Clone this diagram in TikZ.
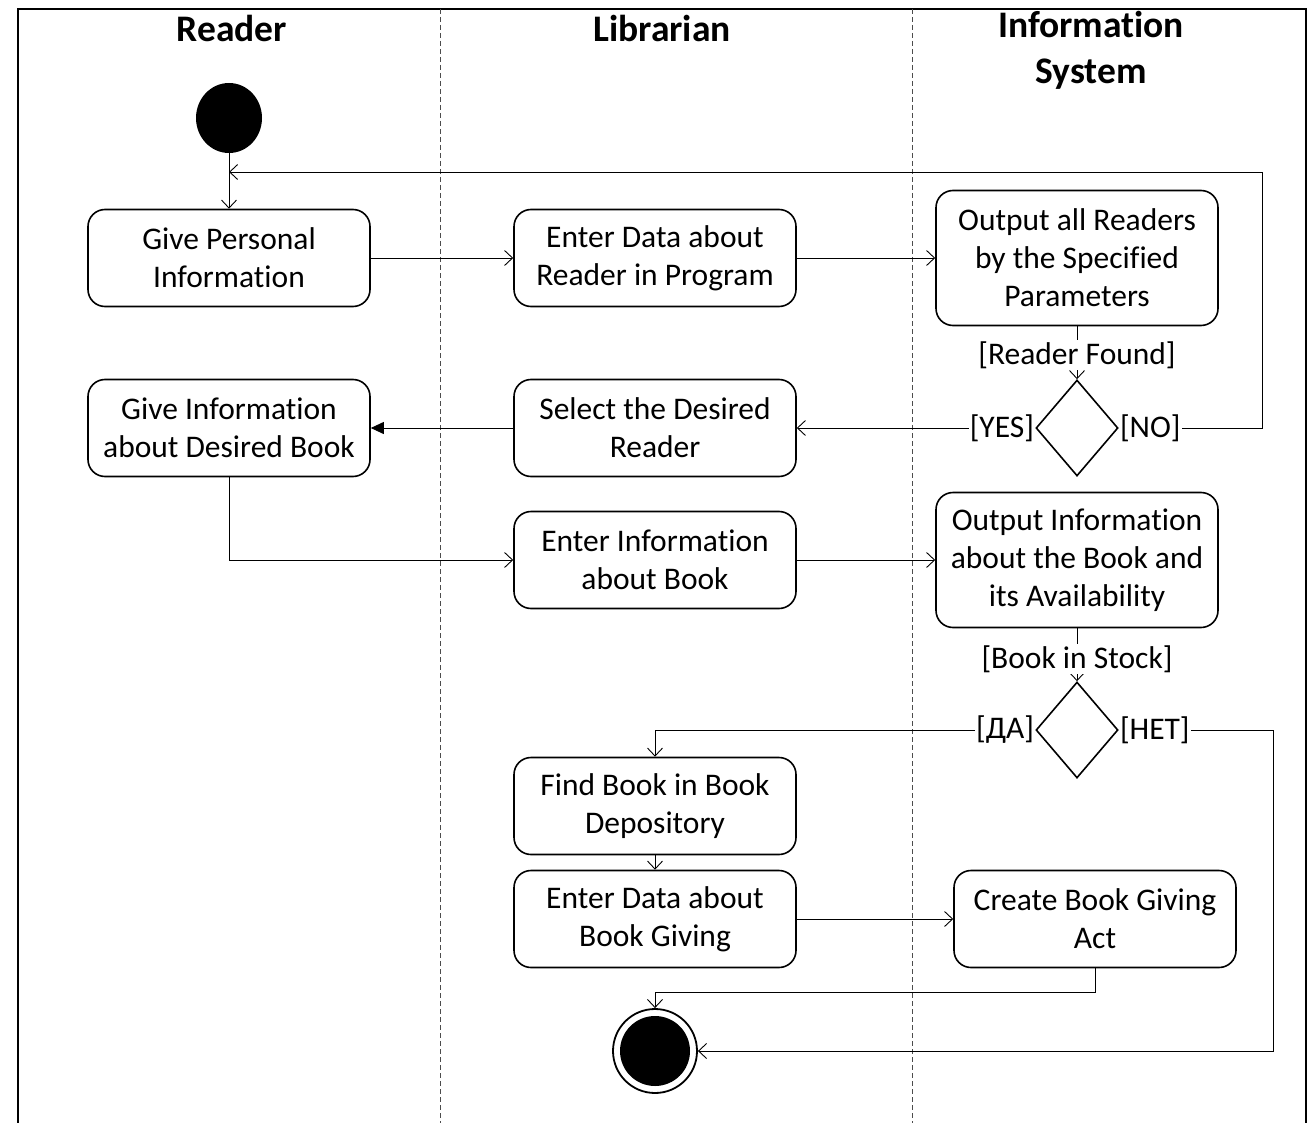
\documentclass[tikz,border=0pt]{standalone}
\usepackage{fontspec}
\setmainfont{Carlito}[Ligatures=NoCommon]
\usetikzlibrary{arrows.meta,shapes.geometric}
\begin{document}
\begin{tikzpicture}[x=1pt,y=-1pt,
  every node/.style={font=\fontsize{31.5}{38}\selectfont},
  action/.style={draw, line width=1.6pt, rounded corners=17pt, align=center,
    minimum width=282pt, minimum height=97pt, inner sep=0pt},
  tall/.style={minimum height=135pt},
  decision/.style={draw, diamond, line width=1.6pt, minimum width=82pt,
    minimum height=96pt, inner sep=0pt},
  lane/.style={font=\fontsize{37.5}{46}\selectfont\bfseries, align=center},
  guard/.style={fill=white, inner sep=1pt},
  arr/.style={line width=0.9pt, -{Straight Barb[length=8pt,width=15pt]}},
  tri/.style={line width=0.9pt, -{Triangle[length=13pt,width=12pt]}},
  lanesep/.style={line width=0.7pt, black!70, dash pattern=on 5pt off 3pt}]
\useasboundingbox (0,0) rectangle (1308,1123);
\fill[white] (0,0) rectangle (1308,1123);

% frame and swimlane separators
\draw[line width=2pt] (18,1123) -- (18,9) -- (1306,9) -- (1306,1123);
\draw[lanesep] (440,9) -- (440,1123);
\draw[lanesep] (912,9) -- (912,1123);

% lane headings
\node[lane] (hreader) at (232,28) {Reader};
\node[lane] (hlib) at (662,28) {Librarian};
\node[lane] (hsys) at (1091,50) {Information\\System};

% initial and final states
\node[ellipse, fill=black, minimum width=66pt, minimum height=70pt, inner sep=0pt] (start) at (229,118) {};
\node[circle, draw, line width=1.8pt, fill=white, minimum size=84pt, inner sep=0pt,
  path picture={\fill[black] (path picture bounding box.center) circle (35pt);}] (end) at (655,1051) {};

% actions
\node[action] (give1) at (229,258) {Give Personal\\Information};
\node[action] (enter1) at (655,258) {Enter Data about\\Reader in Program};
\node[action, tall] (out1) at (1077,258) {Output all Readers\\by the Specified\\Parameters};
\node[action] (give2) at (229,428) {Give Information\\about Desired Book};
\node[action] (sel) at (655,428) {Select the Desired\\Reader};
\node[action] (info) at (655,560) {Enter Information\\about Book};
\node[action, tall] (out2) at (1077,560) {Output Information\\about the Book and\\its Availability};
\node[action] (find) at (655,806) {Find Book in Book\\Depository};
\node[action] (giving) at (655,919) {Enter Data about\\Book Giving};
\node[action] (act) at (1095,919) {Create Book Giving\\Act};

% decisions
\node[decision] (d1) at (1077,428) {};
\node[decision] (d2) at (1077,730) {};

% helper points for routed connectors
\coordinate (loopin) at (229,172);
\coordinate (nocorner) at (1262,428);
\coordinate (netcorner) at (1273,730);

% control flow
\draw[arr] (start) -- (give1);
\draw[arr] (give1) -- (enter1);
\draw[arr] (enter1) -- (out1.west |- enter1);
\draw[arr] (out1) -- (d1);
\draw[line width=0.9pt] (d1.east) -- (nocorner) |- (loopin);
\draw[arr] (nocorner |- loopin) -- (loopin);
\draw[arr] (d1.west) -- (sel.east);
\draw[tri] (sel.west) -- (give2.east);
\draw[arr] (give2.south) |- (info.west);
\draw[arr] (info) -- (out2.west |- info);
\draw[arr] (out2) -- (d2);
\draw[arr] (d2.west) -| (find.north);
\draw[arr] (d2.east) -- (netcorner) |- (end.east);
\draw[arr] (find) -- (giving);
\draw[arr] (giving.east) -- (act.west);
\draw[arr] (act.south) -- ++(0,24) -| (end.north);

% guards
\node[guard] (g1) at (1077,355) {[Reader Found]};
\node[guard, anchor=east] (gyes) at (d1.west) {[YES]};
\node[guard, anchor=west] (gno) at (d1.east) {[NO]};
\node[guard] (g2) at (1077,659) {[Book in Stock]};
\node[guard, anchor=east] (gda) at (d2.west) {[ДА]};
\node[guard, anchor=west] (gnet) at (d2.east) {[НЕТ]};
\end{tikzpicture}
\end{document}
